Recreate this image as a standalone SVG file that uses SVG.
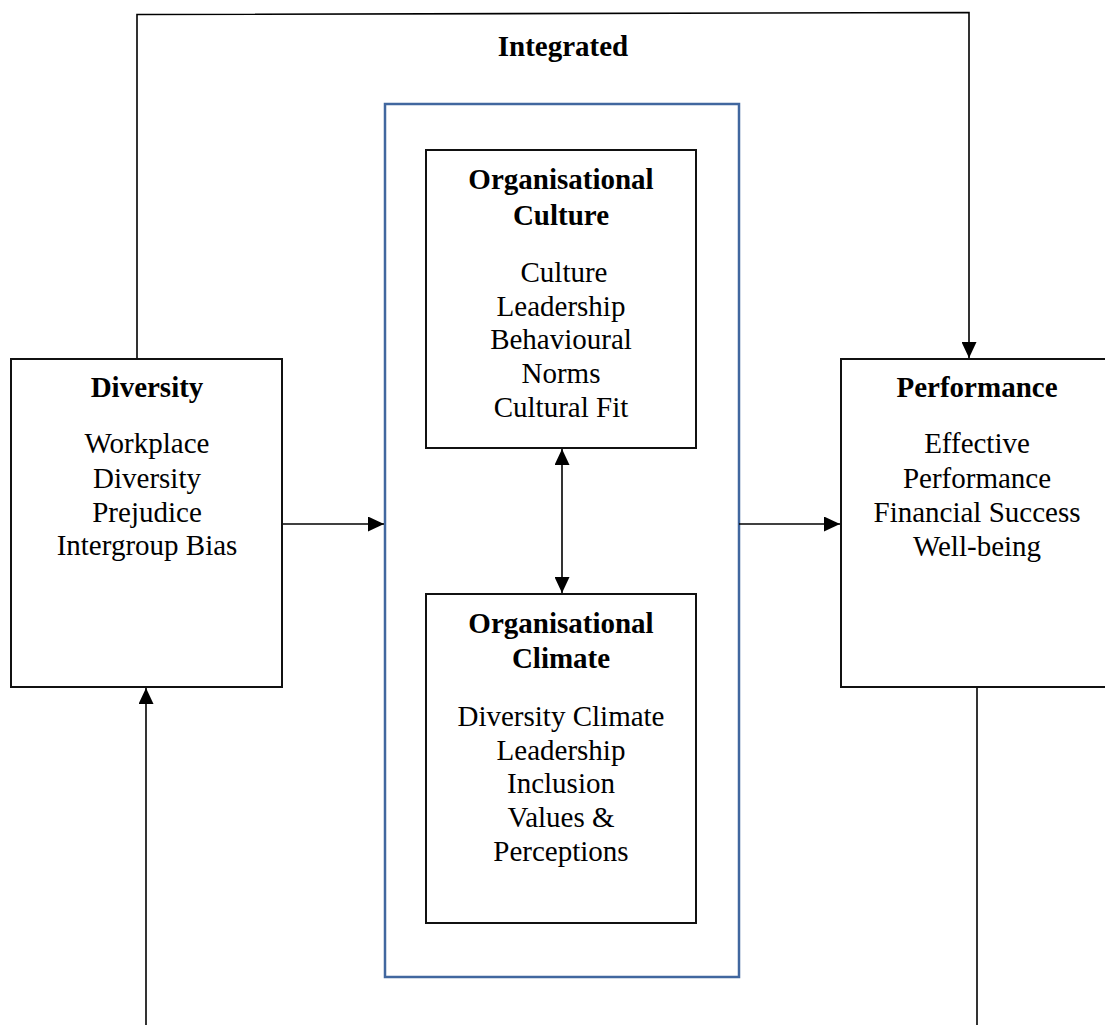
<svg xmlns="http://www.w3.org/2000/svg" width="1105" height="1025" viewBox="0 0 1105 1025">
<style>
text{font-family:"Liberation Serif","Times New Roman",serif;font-size:29px;fill:#000;text-anchor:middle}
.b{font-weight:bold}
.box{fill:#fff;stroke:#111;stroke-width:2}
.con{fill:none;stroke:#000;stroke-width:1.6}
</style>
<defs>
<marker id="ah" viewBox="0 0 16 15" refX="16" refY="7.5" markerWidth="16" markerHeight="15" markerUnits="userSpaceOnUse" orient="auto-start-reverse">
<path d="M0,0 L16,7.5 L0,15 Z" fill="#000"/>
</marker>
</defs>
<rect width="1105" height="1025" fill="#fff"/>
<g id="container">
<rect x="385" y="104" width="354" height="873" fill="#fff" stroke="#41679F" stroke-width="2.5"/>
</g>
<g id="connectors">
<polyline class="con" points="137,358 137,14.5 969,12.5 969,358" marker-end="url(#ah)"/>
<line class="con" x1="282" y1="524" x2="384" y2="524" marker-end="url(#ah)"/>
<line class="con" x1="739" y1="524" x2="840" y2="524" marker-end="url(#ah)"/>
<line class="con" x1="562" y1="449" x2="562" y2="593" marker-start="url(#ah)" marker-end="url(#ah)"/>
<line class="con" x1="146" y1="1025" x2="146" y2="688" marker-end="url(#ah)"/>
<line class="con" x1="977" y1="688" x2="977" y2="1025"/>
</g>
<text class="b" x="563" y="56">Integrated</text>
<g id="diversity">
<rect class="box" x="11" y="359" width="271" height="328"/>
<text class="b" x="147" y="397">Diversity</text>
<text x="147" y="453">Workplace</text>
<text x="147" y="488">Diversity</text>
<text x="147" y="522">Prejudice</text>
<text x="147" y="555">Intergroup Bias</text>
</g>
<g id="performance">
<rect class="box" x="841" y="359" width="274" height="328"/>
<text class="b" x="977" y="397">Performance</text>
<text x="977" y="453">Effective</text>
<text x="977" y="488">Performance</text>
<text x="977" y="522">Financial Success</text>
<text x="977" y="556">Well-being</text>
</g>
<g id="culture">
<rect class="box" x="426" y="150" width="270" height="298"/>
<text class="b" x="561" y="189">Organisational</text>
<text class="b" x="561" y="225">Culture</text>
<text x="564" y="282">Culture</text>
<text x="561" y="316">Leadership</text>
<text x="561" y="349">Behavioural</text>
<text x="561" y="383">Norms</text>
<text x="561" y="417">Cultural Fit</text>
</g>
<g id="climate">
<rect class="box" x="426" y="594" width="270" height="329"/>
<text class="b" x="561" y="633">Organisational</text>
<text class="b" x="561" y="668">Climate</text>
<text x="561" y="726">Diversity Climate</text>
<text x="561" y="760">Leadership</text>
<text x="561" y="793">Inclusion</text>
<text x="561" y="827">Values &amp;</text>
<text x="561" y="861">Perceptions</text>
</g>
</svg>
